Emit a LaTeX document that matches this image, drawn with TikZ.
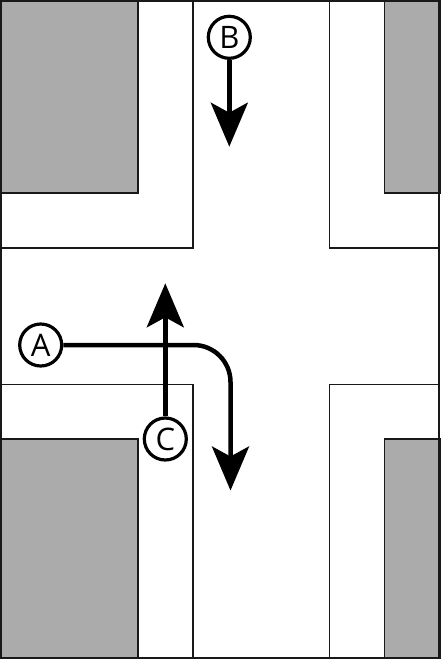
\documentclass[tikz,border=0pt]{standalone}
\usepackage{fontspec}
\setmainfont{Open Sans}
\usetikzlibrary{arrows.meta}
\definecolor{blockgray}{gray}{0.67}
\begin{document}
\begin{tikzpicture}[x=1pt,y=-1pt,
  road/.style={draw=black!90,line width=1.8pt},
  block/.style={draw=black!90,line width=1.8pt,fill=blockgray},
  point/.style={circle,draw=black,line width=3.2pt,fill=white,inner sep=0pt,minimum size=42pt,font=\fontsize{31}{31}\selectfont},
  route/.style={draw=black,line width=4.5pt,-{Stealth[length=44pt,width=37pt,inset=10pt]}}]
\useasboundingbox (0,0) rectangle (440,659);
\fill[white] (0,0) rectangle (440,659);
% grey blocks
\draw[block] (0,0) rectangle (138.3,193);
\draw[block] (440,0) rectangle (384.5,193);
\draw[block] (0,659) rectangle (138.3,439);
\draw[block] (440,659) rectangle (384.5,439);
% kerb lines
\draw[road] (192.8,0) -- (192.8,247.7) -- (0,247.7);
\draw[road] (329.5,0) -- (329.5,247.7) -- (440,247.7);
\draw[road] (0,384.5) -- (192.8,384.5) -- (192.8,659);
\draw[road] (440,384.5) -- (329.5,384.5) -- (329.5,659);
% outer frame
\draw[line width=2pt,black!90] (1,1) rectangle (439.2,657.8);
% ends of routes
\coordinate (turn) at (230.5,345);
\coordinate (aend) at (230.5,490.5);
\coordinate (bend) at (229.3,146.7);
\coordinate (cend) at (165.3,283.3);
\node [point] (a) at (40.7,345) {A};
\node [point] (b) at (229.3,37.3) {B};
\node [point] (c) at (165.3,439) {C};
\draw[route,rounded corners=37pt] (a) -- (turn) -- (aend);
\draw[route] (b) -- (bend);
\draw[route] (c) -- (cend);
\end{tikzpicture}
\end{document}
